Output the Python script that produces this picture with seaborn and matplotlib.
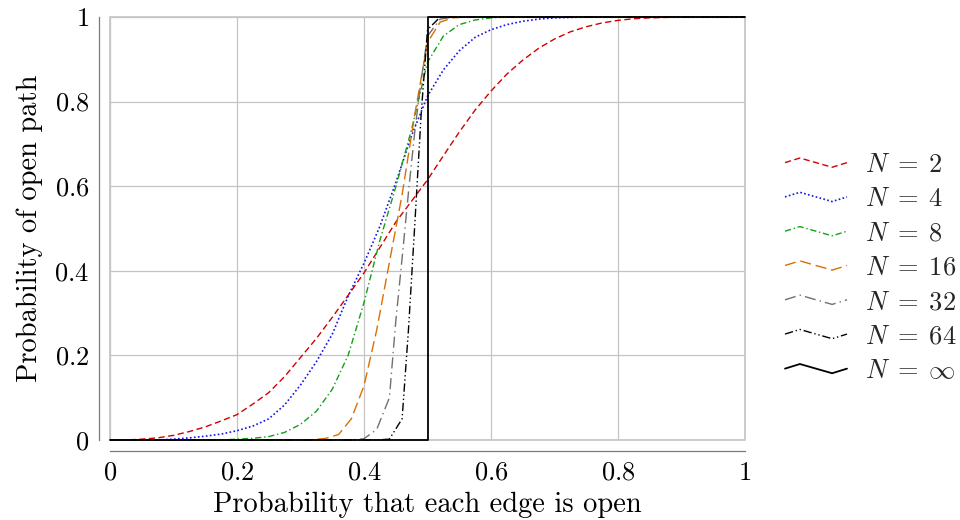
import matplotlib
matplotlib.use("Agg")
import matplotlib.pyplot as plt
import seaborn as sns
import pandas as pd
from matplotlib.legend_handler import HandlerBase
from matplotlib.lines import Line2D
from matplotlib.patches import Rectangle

# ---------------- data ----------------
p_n2 = [0, 0.025, 0.05, 0.075, 0.1, 0.125, 0.15, 0.175, 0.2, 0.225, 0.25, 0.275, 0.3,
        0.325, 0.35, 0.375, 0.4, 0.425, 0.45, 0.475, 0.5, 0.525, 0.55, 0.575, 0.6,
        0.625, 0.65, 0.675, 0.7, 0.725, 0.75, 0.775, 0.8, 0.825, 0.85, 0.875, 0.9, 1.0]
y_n2 = [0, 0, 0.002, 0.005, 0.011, 0.02, 0.031, 0.045, 0.06, 0.085, 0.112, 0.15, 0.195,
        0.24, 0.29, 0.342, 0.395, 0.455, 0.515, 0.565, 0.615, 0.672, 0.728, 0.78, 0.825,
        0.865, 0.898, 0.926, 0.948, 0.965, 0.977, 0.986, 0.992, 0.996, 0.998, 0.999, 1.0, 1.0]

p_n4 = [0, 0.075, 0.1, 0.125, 0.15, 0.175, 0.2, 0.225, 0.25, 0.275, 0.3, 0.325, 0.35,
        0.375, 0.4, 0.425, 0.45, 0.475, 0.5, 0.525, 0.55, 0.575, 0.6, 0.625, 0.65,
        0.675, 0.7, 0.75, 1.0]
y_n4 = [0, 0, 0.002, 0.005, 0.009, 0.014, 0.022, 0.033, 0.05, 0.083, 0.13, 0.185, 0.25,
        0.34, 0.418, 0.505, 0.608, 0.72, 0.813, 0.875, 0.92, 0.952, 0.97, 0.982, 0.99,
        0.995, 0.998, 1.0, 1.0]

p_n8 = [0, 0.175, 0.2, 0.225, 0.25, 0.275, 0.3, 0.325, 0.35, 0.375, 0.4, 0.425, 0.45,
        0.475, 0.5, 0.525, 0.55, 0.575, 0.6, 0.625, 1.0]
y_n8 = [0, 0, 0.002, 0.004, 0.008, 0.018, 0.037, 0.068, 0.12, 0.2, 0.325, 0.472, 0.598,
        0.735, 0.893, 0.955, 0.982, 0.993, 0.998, 1.0, 1.0]

p_n16 = [0, 0.3, 0.32, 0.34, 0.36, 0.38, 0.40, 0.42, 0.44, 0.46, 0.48, 0.50, 0.52, 0.54, 0.56, 1.0]
y_n16 = [0, 0, 0.001, 0.004, 0.013, 0.05, 0.128, 0.26, 0.42, 0.58, 0.77, 0.94, 0.988, 0.998, 1.0, 1.0]

p_n32 = [0, 0.38, 0.40, 0.42, 0.44, 0.45, 0.46, 0.47, 0.48, 0.49, 0.50, 0.52, 0.54, 1.0]
y_n32 = [0, 0, 0.003, 0.025, 0.10, 0.28, 0.43, 0.585, 0.73, 0.85, 0.955, 0.995, 1.0, 1.0]

p_n64 = [0, 0.42, 0.44, 0.46, 0.47, 0.48, 0.49, 0.50, 0.52, 1.0]
y_n64 = [0, 0, 0.002, 0.05, 0.26, 0.51, 0.77, 0.97, 1.0, 1.0]

p_inf = [0, 0.5, 0.5, 1.0]
y_inf = [0, 0, 1, 1]

series_labels = [r"$N\;=\;2$", r"$N\;=\;4$", r"$N\;=\;8$", r"$N\;=\;16$",
                 r"$N\;=\;32$", r"$N\;=\;64$", r"$N\;=\;\infty$"]
tick_values = [0, 0.2, 0.4, 0.6, 0.8, 1]
tick_labels = ["0", "0.2", "0.4", "0.6", "0.8", "1"]
xlabel = "Probability that each edge is open"
ylabel = "Probability of open path"

# ---------------- styling ----------------
sns.set_theme(style="white")
plt.rcParams["mathtext.fontset"] = "cm"
plt.rcParams["font.family"] = ["cmr10", "DejaVu Serif"]
plt.rcParams["axes.unicode_minus"] = False

colors = ["#d10000", "#1414e6", "#14a014", "#d97000", "#707070", "#000000", "#000000"]
styles = [(0, (4.5, 2.5)), (0, (1.0, 1.4)), (0, (4.5, 2, 1, 2)), (0, (8, 3.5)),
          (0, (8, 3, 1, 3)), (0, (6, 2, 1, 2, 1, 2)), "-"]
widths = [1.0, 1.2, 1.0, 1.0, 1.0, 1.0, 1.3]

fig = plt.figure(figsize=(9.6, 5.2), dpi=100)
ax = fig.add_axes([110 / 960, 80 / 520, 635 / 960, 423 / 520])

xs = [p_n2, p_n4, p_n8, p_n16, p_n32, p_n64, p_inf]
ys = [y_n2, y_n4, y_n8, y_n16, y_n32, y_n64, y_inf]
for x, y, lab, c, ls, lw in zip(xs, ys, series_labels, colors, styles, widths):
    df = pd.DataFrame({"p": x, "prob": y})
    sns.lineplot(data=df, x="p", y="prob", ax=ax, color=c, linestyle=ls, lw=lw,
                 label=lab, sort=False, estimator=None, clip_on=False)

ax.set_xlim(0, 1)
ax.set_ylim(0, 1)
ax.set_xticks(tick_values, labels=[f"${t}$" for t in tick_labels])
ax.set_yticks(tick_values, labels=[f"${t}$" for t in tick_labels])
ax.grid(True, color="#c4c4c4", lw=0.9)
ax.set_axisbelow(True)
ax.add_patch(Rectangle((0, 0), 1, 1, transform=ax.transAxes, fill=False,
                       ec="#c4c4c4", lw=1.2, clip_on=False, zorder=0.5))

for s in ["top", "right"]:
    ax.spines[s].set_visible(False)
for s in ["left", "bottom"]:
    ax.spines[s].set_visible(True)
    ax.spines[s].set_position(("outward", 8))
    ax.spines[s].set_color("#7a7a7a")
    ax.spines[s].set_linewidth(0.9)
ax.tick_params(direction="out", length=3, width=0.9, color="#7a7a7a",
               labelsize=19, pad=4, labelcolor="black")

ax.set_xlabel(xlabel, fontsize=20.5, color="black", labelpad=5)
ax.set_ylabel(ylabel, fontsize=20.5, color="black", labelpad=8)


class ZigZag(HandlerBase):
    def create_artists(self, legend, orig, xdescent, ydescent, width, height,
                       fontsize, trans):
        x0 = -xdescent
        ym = height / 2 - ydescent
        a = height * 0.25
        line = Line2D([x0, x0 + 0.24 * width, x0 + 0.76 * width, x0 + width],
                      [ym, ym + a, ym - a, ym])
        line.update_from(orig)
        line.set_transform(trans)
        return [line]


handles, labels = ax.get_legend_handles_labels()
if ax.legend_:
    ax.legend_.remove()
fig.legend(handles, labels, handler_map={Line2D: ZigZag()}, loc="center left",
           bbox_to_anchor=(785 / 960, 1 - 268 / 520), frameon=False, fontsize=19,
           borderpad=0, borderaxespad=0, handlelength=2.35, handletextpad=0.68,
           labelspacing=0.4)

fig.savefig("out.png", dpi=100)
